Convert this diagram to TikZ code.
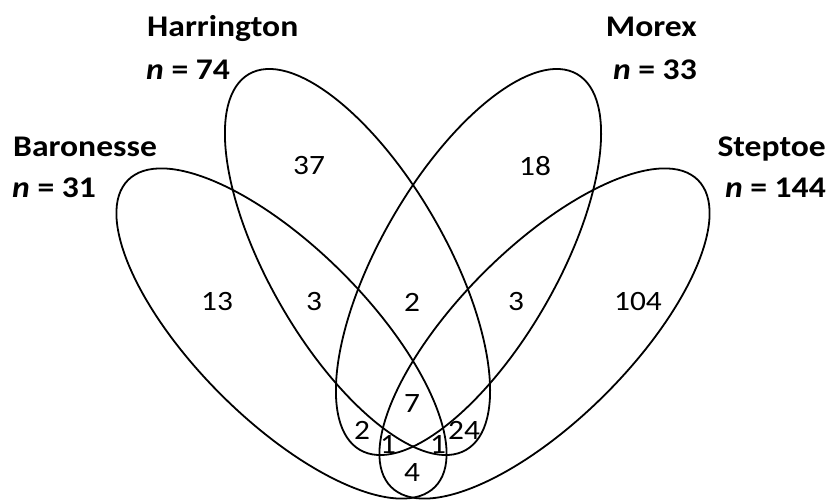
\documentclass[tikz,border=0pt]{standalone}
\usepackage{fontspec}
\setmainfont{Carlito}[FakeStretch=1.12]
\begin{document}
\begin{tikzpicture}[x=1pt,y=1pt,
  venn/.style={draw=black, line width=1.8pt},
  num/.style={font=\fontsize{28}{28}\selectfont, inner sep=0pt},
  lab/.style={font=\fontsize{30}{36}\selectfont\bfseries, inner sep=0pt}]
\useasboundingbox (0,0) rectangle (828,499);
% ellipses
\draw[venn, rotate around={-45:(281.5,165.5)}] (281.5,165.5) ellipse [x radius=217, y radius=86];
\draw[venn, rotate around={45:(544.5,165.5)}] (544.5,165.5) ellipse [x radius=217, y radius=86];
\draw[venn, rotate around={-60:(357.5,237)}] (357.5,237) ellipse [x radius=217, y radius=88];
\draw[venn, rotate around={60:(468.5,237)}] (468.5,237) ellipse [x radius=217, y radius=88];
% labels
\node[lab, anchor=base west] (hname) at (147,462) {Harrington};
\node[lab, anchor=base west] (hn) at (146,419) {\itshape n\upshape{} = 74};
\node[lab, anchor=base west] (bname) at (13,342) {Baronesse};
\node[lab, anchor=base west] (bn) at (12,301) {\itshape n\upshape{} = 31};
\node[lab, anchor=base east] (mname) at (697,462) {Morex};
\node[lab, anchor=base east] (mn) at (697,419) {\itshape n\upshape{} = 33};
\node[lab, anchor=base east] (sname) at (826,342) {Steptoe};
\node[lab, anchor=base east] (sn) at (826,301) {\itshape n\upshape{} = 144};
% counts
\node[num] (h) at (309,333) {37};
\node[num] (m) at (535,333) {18};
\node[num] (b) at (217,197) {13};
\node[num] (bh) at (314,197) {3};
\node[num] (hm) at (412,197) {2};
\node[num] (ms) at (516,197) {3};
\node[num] (s) at (638,197) {104};
\node[num] (all) at (412,95) {7};
\node[num] (bhm) at (362,69) {2};
\node[num] (bhs) at (388,55) {1};
\node[num] (bms) at (438,55) {1};
\node[num] (hms) at (464,69) {24};
\node[num] (bs) at (412,26) {4};
\end{tikzpicture}
\end{document}
